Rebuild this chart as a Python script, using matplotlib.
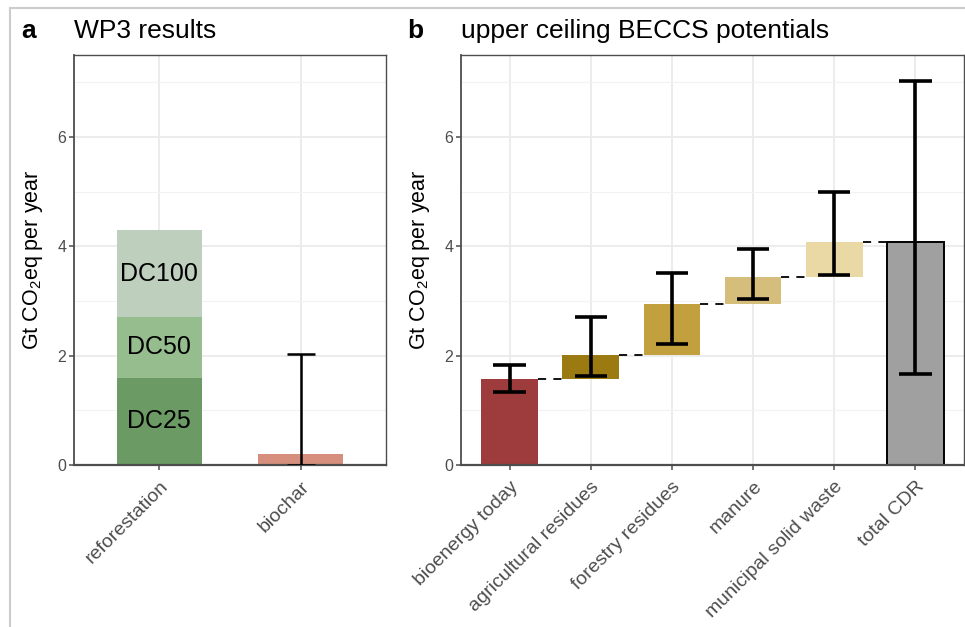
import matplotlib
matplotlib.use("Agg")
import matplotlib.pyplot as plt
from matplotlib.lines import Line2D
import numpy as np

plt.rcParams['font.family'] = ['Liberation Sans', 'DejaVu Sans']
plt.rcParams['mathtext.default'] = 'regular'

# ---- Panel a data ----
a_categories = ["reforestation", "biochar"]
dc_labels = ["DC25", "DC50", "DC100"]
dc_tops = [1.6, 2.7, 4.3]          # cumulative tops of reforestation stack
dc_colors = ["#6B9A64", "#96BD8D", "#BECFBD"]
biochar_value = 0.2
biochar_err_low = 0.0
biochar_err_high = 2.03
biochar_color = "#D68F7D"

# ---- Panel b data ----
b_categories = ["bioenergy today", "agricultural residues", "forestry residues",
                "manure", "municipal solid waste", "total CDR"]
b_increments = [1.57, 0.44, 0.94, 0.48, 0.65]
b_err_low = [1.33, 1.63, 2.21, 3.03, 3.48, 1.67]
b_err_high = [1.83, 2.71, 3.52, 3.96, 5.00, 7.02]
b_colors = ["#9E3B3D", "#9B7A12", "#C2A03E", "#D5BE7B", "#EAD9A4", "#A0A0A0"]

yticks_major = [0, 2, 4, 6]
yticks_minor = [1, 3, 5, 7]
ylabel = "Gt CO$_2$eq per year"

W, H = 965, 627
fig = plt.figure(figsize=(W / 100, H / 100), dpi=100)

def px_axes(l, t, r, b):
    return fig.add_axes([l / W, 1 - b / H, (r - l) / W, (b - t) / H])

axA = px_axes(74, 55, 386, 465)
axB = px_axes(461, 55, 964, 465)

grid_major = "#EBEBEB"
spine_c = "#4D4D4D"
tick_c = "#4D4D4D"

def style(ax, cats, xlim):
    ax.set_xlim(*xlim)
    ax.set_ylim(0, 7.5)
    ax.set_xticks(np.arange(1, len(cats) + 1))
    ax.set_xticklabels(cats, rotation=45, ha='right', va='top', rotation_mode='anchor',
                       fontsize=14, color=tick_c)
    ax.set_yticks(yticks_major)
    ax.set_yticks(yticks_minor, minor=True)
    ax.set_yticklabels([str(v) for v in yticks_major], fontsize=11.5, color=tick_c)
    ax.tick_params(axis='both', which='major', length=3.5, width=1.1, color=spine_c, pad=2)
    ax.tick_params(axis='x', which='major', pad=6)
    ax.tick_params(axis='y', which='minor', length=0)
    ax.grid(True, which='major', color=grid_major, lw=1.3, zorder=0)
    ax.grid(True, which='minor', axis='y', color="#F2F2F2", lw=0.8, zorder=0)
    ax.set_axisbelow(True)
    for s in ax.spines.values():
        s.set_color(spine_c)
        s.set_linewidth(1.0)
    ax.spines['bottom'].set_linewidth(1.6)
    ax.spines['left'].set_linewidth(1.3)
    ax.set_ylabel(ylabel, fontsize=15.5, labelpad=9)

style(axA, a_categories, (0.4, 2.6))
style(axB, b_categories, (0.4, 6.6))

# ---- Panel a drawing ----
bottoms = [0] + dc_tops[:-1]
heights = np.diff([0] + dc_tops)
for lab, bot, h, c in zip(dc_labels, bottoms, heights, dc_colors):
    axA.bar(1, h, bottom=bot, width=0.6, color=c, zorder=2)
    axA.text(1, bot + h / 2, lab, ha='center', va='center', fontsize=18, color='black', zorder=3)
axA.bar(2, biochar_value, width=0.6, color=biochar_color, zorder=2)
axA.vlines(2, biochar_err_low, biochar_err_high, color='black', lw=1.8, zorder=4)
axA.hlines(biochar_err_high, 2 - 0.1, 2 + 0.1, color='black', lw=1.8, zorder=4)
axA.hlines(biochar_err_low, 2 - 0.1, 2 + 0.1, color='black', lw=1.8, zorder=4)

# ---- Panel b drawing ----
tops = np.cumsum(b_increments)
starts = np.concatenate([[0], tops[:-1]])
total = tops[-1]
xs = np.arange(1, len(b_categories) + 1)
bw = 0.7
for i in range(len(b_increments)):
    axB.bar(xs[i], b_increments[i], bottom=starts[i], width=bw, color=b_colors[i], zorder=2)
axB.bar(xs[-1], total, width=bw, color=b_colors[-1], edgecolor='black', lw=1.4, zorder=2)

# connecting dashed lines
all_tops = list(tops) + [total]
for i in range(len(b_categories) - 1):
    axB.hlines(all_tops[i], xs[i] + bw / 2, xs[i + 1] - bw / 2, color='black',
               lw=1.3, linestyles=(0, (4.5, 4)), zorder=3)

axB.vlines(xs, b_err_low, b_err_high, color='black', lw=2.6, zorder=4)
axB.hlines(b_err_high, xs - 0.2, xs + 0.2, color='black', lw=2.6, zorder=4)
axB.hlines(b_err_low, xs - 0.2, xs + 0.2, color='black', lw=2.6, zorder=4)

# ---- Titles ----
fig.text(21 / W, 1 - 31 / H, "a", fontsize=19, fontweight='bold', va='center', ha='left')
fig.text(74 / W, 1 - 31 / H, "WP3 results", fontsize=19, va='center', ha='left')
fig.text(407 / W, 1 - 31 / H, "b", fontsize=19, fontweight='bold', va='center', ha='left')
fig.text(461 / W, 1 - 31 / H, "upper ceiling BECCS potentials", fontsize=19, va='center', ha='left')

# ---- outer frame ----
fig.add_artist(Line2D([10 / W, 1], [1 - 8 / H, 1 - 8 / H], color="#CCCCCC", lw=1.5,
                      transform=fig.transFigure))
fig.add_artist(Line2D([10 / W, 10 / W], [0, 1 - 8 / H], color="#CCCCCC", lw=1.5,
                      transform=fig.transFigure))

fig.savefig("out.png", dpi=100, facecolor='white')
